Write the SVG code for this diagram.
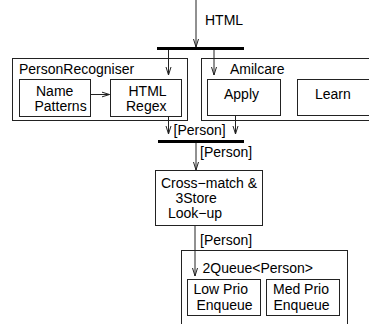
<svg xmlns="http://www.w3.org/2000/svg" width="369" height="324" viewBox="0 0 369 324">
<style>
text{font-family:"Liberation Sans",Arial,sans-serif;font-size:14px;fill:#000}
.box{fill:#fff;stroke:#222;stroke-width:1}
.ln{fill:none;stroke:#222;stroke-width:1}
.bar{stroke:#000;stroke-width:3}
</style>
<defs>
<marker id="ah" markerWidth="10" markerHeight="8" refX="8" refY="3" orient="auto" markerUnits="userSpaceOnUse" viewBox="0 0 10 6">
<path d="M0,0.5 L8,3 L0,5.5" fill="none" stroke="#222" stroke-width="1"/>
</marker>
</defs>
<rect width="369" height="324" fill="#fff"/>
<g id="personrecogniser">
<rect class="box" x="12.5" y="58.5" width="175" height="62"/>
<text x="19" y="73.5">PersonRecogniser</text>
</g>
<g id="namepatterns">
<rect class="box" x="19.5" y="79.5" width="71" height="37"/>
<text x="36" y="96">Name</text>
<text x="34.5" y="111">Patterns</text>
</g>
<g id="htmlregex">
<rect class="box" x="110.5" y="79.5" width="71" height="37"/>
<text x="128.5" y="96">HTML</text>
<text x="126" y="111">Regex</text>
</g>
<g id="amilcare">
<rect class="box" x="201.5" y="58.5" width="180" height="62"/>
<text x="230" y="73.5">Amilcare</text>
</g>
<g id="apply">
<rect class="box" x="207.5" y="79.5" width="73" height="36"/>
<text x="224" y="98.5">Apply</text>
</g>
<g id="learn">
<rect class="box" x="297.5" y="79.5" width="80" height="36"/>
<text x="315" y="98.5">Learn</text>
</g>
<g id="crossmatch">
<rect class="box" x="155.5" y="170.5" width="107" height="55"/>
<text x="161" y="188">Cross−match &amp;</text>
<text x="175.5" y="203">3Store</text>
<text x="168" y="218">Look−up</text>
</g>
<g id="queue">
<rect class="box" x="181.5" y="250.5" width="166" height="90"/>
<text x="202.5" y="272.5">2Queue&lt;Person&gt;</text>
</g>
<g id="lowprio">
<rect class="box" x="187.5" y="279.5" width="73" height="36"/>
<text x="193.5" y="293.5">Low Prio</text>
<text x="196.5" y="309.5">Enqueue</text>
</g>
<g id="medprio">
<rect class="box" x="266.5" y="279.5" width="73" height="36"/>
<text x="273" y="293.5">Med Prio</text>
<text x="273.5" y="309.5">Enqueue</text>
</g>
<g id="connectors">
<line class="bar" x1="157" y1="48.5" x2="244" y2="48.5"/>
<line class="bar" x1="158" y1="141.5" x2="244" y2="141.5"/>
<line class="ln" x1="196" y1="0" x2="196" y2="47" marker-end="url(#ah)"/>
<text x="205" y="25">HTML</text>
<line class="ln" x1="168.5" y1="50" x2="168.5" y2="75" marker-end="url(#ah)"/>
<line class="ln" x1="214" y1="50" x2="214" y2="75" marker-end="url(#ah)"/>
<line class="ln" x1="91" y1="94.5" x2="109.5" y2="94.5" marker-end="url(#ah)"/>
<line class="ln" x1="168.5" y1="117" x2="168.5" y2="134" marker-end="url(#ah)"/>
<line class="ln" x1="235.5" y1="116" x2="235.5" y2="134" marker-end="url(#ah)"/>
<text x="173.5" y="135">[Person]</text>
<line class="ln" x1="196" y1="143" x2="196" y2="170" marker-end="url(#ah)"/>
<text x="200" y="157">[Person]</text>
<line class="ln" x1="195" y1="226" x2="195" y2="276" marker-end="url(#ah)"/>
<text x="200" y="245">[Person]</text>
</g>
</svg>
